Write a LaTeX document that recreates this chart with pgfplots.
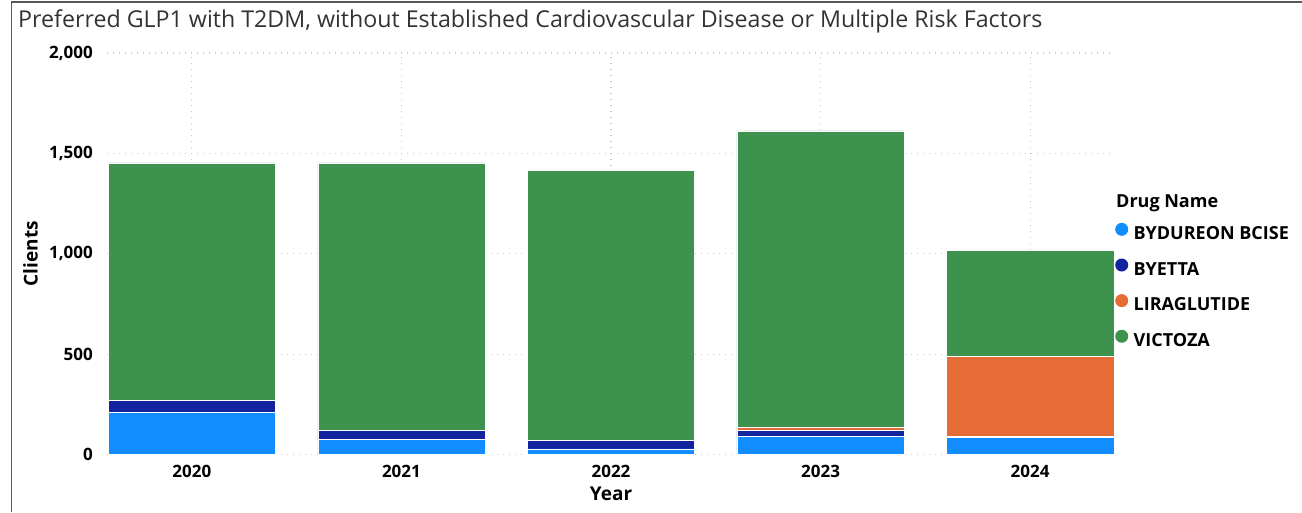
\documentclass[border=0pt]{standalone}
\usepackage{pgfplots}
\usepackage{pgfplotstable}
\pgfplotsset{compat=1.18}
\usepackage{fontspec}
\setmainfont{Open Sans}
\definecolor{cBYD}{HTML}{118DFF}
\definecolor{cBYE}{HTML}{12239E}
\definecolor{cLIR}{HTML}{E66C37}
\definecolor{cVIC}{HTML}{3D924D}
\definecolor{gridc}{HTML}{C8C8C8}
\definecolor{titlec}{HTML}{333333}
\pgfplotstableread{
x byd bye lir vic
0 211 58 0 1184
1 73 45 0 1335
2 28 42 0 1346
3 91 28 17 1476
4 83 5 401 529
}\datatable
\begin{document}
\begin{tikzpicture}
\useasboundingbox (0pt,0pt) rectangle (1302pt,512pt);
\draw[color=black!65, line width=1.6pt] (11.5pt,0pt) -- (11.5pt,510pt) -- (1302pt,510pt);
\node[anchor=base west, inner sep=0pt, text=titlec, font=\fontsize{23.2}{27}\selectfont] at (18pt,484pt) {Preferred GLP1 with T2DM, without Established Cardiovascular Disease or Multiple Risk Factors};
\begin{axis}[
  at={(107pt,57.6pt)}, anchor=south west,
  scale only axis, width=1008pt, height=401.4pt,
  ybar stacked, bar width=0.798,
  xmin=-0.405, xmax=4.405, ymin=0, ymax=2000,
  xtick={0,1,2,3,4}, xticklabels={2020,2021,2022,2023,2024},
  ytick={0,500,1000,1500,2000},
  axis line style={draw=none}, major tick length=0pt,
  grid=major,
  major grid style={gridc, dash pattern=on 1.4pt off 4.6pt, line width=1.1pt},
  /pgf/number format/assume math mode=true,
  /pgf/number format/1000 sep={,},
  yticklabel style={font=\bfseries\fontsize{17}{20}\selectfont, inner sep=0pt, anchor=east, xshift=-14pt},
  xticklabel style={font=\bfseries\fontsize{17}{20}\selectfont, inner sep=0pt, anchor=north, yshift=-10.6pt},
  xlabel={Year}, ylabel={Clients},
  xlabel style={font=\bfseries\fontsize{19}{22}\selectfont, at={(axis description cs:0.5,0)}, anchor=north, inner sep=0pt, yshift=-32.6pt},
  ylabel style={font=\bfseries\fontsize{19}{22}\selectfont, at={(axis description cs:-0.0685,0.5)}, anchor=south, inner sep=0pt},
  legend image code/.code={\fill[#1,draw=none] (6.5pt,4.5pt) circle (6.5pt);},
  legend style={at={(1,0.5774)}, anchor=north west, draw=none, fill=none, inner sep=0pt,
     font=\bfseries\fontsize{18}{21}\selectfont, row sep=17.4pt, column sep=5.5pt,
     nodes={inner sep=0pt}},
  legend cell align=left,
]
\addplot[fill=cBYD, draw=white, line width=0.5pt] table[x=x,y=byd]{\datatable};
\addplot[fill=cBYE, draw=white, line width=0.5pt] table[x=x,y=bye]{\datatable};
\addplot[fill=cLIR, draw=white, line width=0.5pt] table[x=x,y=lir]{\datatable};
\addplot[fill=cVIC, draw=white, line width=0.5pt] table[x=x,y=vic]{\datatable};
\legend{BYDUREON BCISE,BYETTA,LIRAGLUTIDE,VICTOZA}
\end{axis}
\node[anchor=base west, inner sep=0pt, font=\bfseries\fontsize{18}{21}\selectfont] at (1116pt,304pt) {Drug Name};
\end{tikzpicture}
\end{document}
